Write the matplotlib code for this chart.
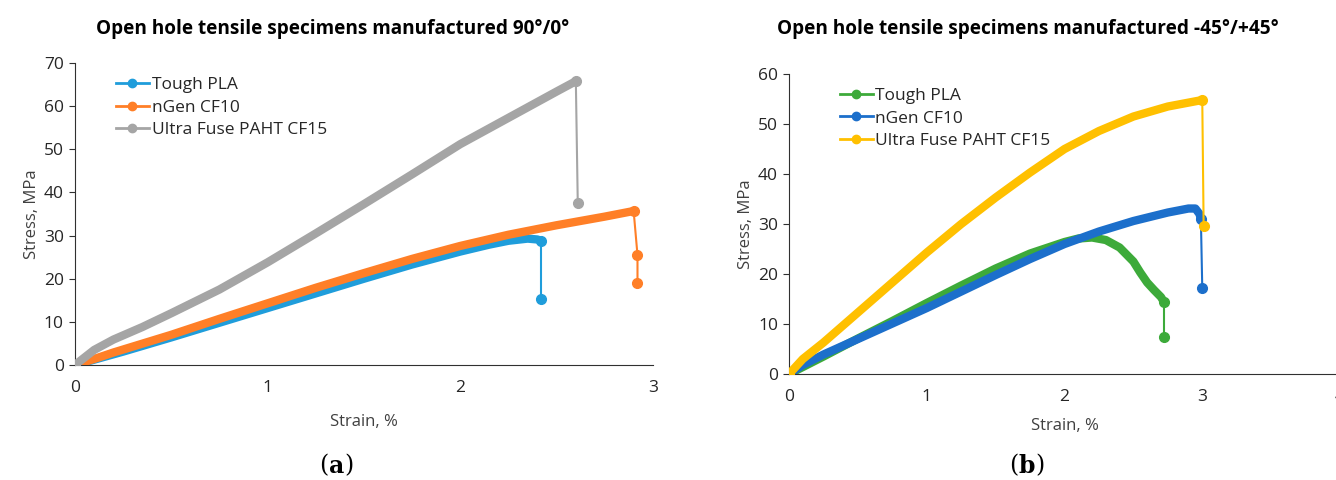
import matplotlib
matplotlib.use("Agg")
import matplotlib.pyplot as plt

plt.rcParams['font.family'] = ['Open Sans', 'DejaVu Sans']

# (a) 90/0
a_pla_x = [0, 0.25, 0.5, 0.75, 1.0, 1.25, 1.5, 1.75, 2.0, 2.15, 2.25, 2.35, 2.4, 2.42]
a_pla_y = [0, 3.1, 6.4, 9.8, 13.2, 16.6, 20.0, 23.3, 26.3, 27.9, 28.8, 29.3, 29.1, 28.8]
a_pla_drop_x = [2.42]
a_pla_drop_y = [15.3]
a_ngen_x = [0, 0.1, 0.2, 0.5, 0.75, 1.0, 1.25, 1.5, 1.75, 2.0, 2.25, 2.5, 2.75, 2.9]
a_ngen_y = [0, 1.4, 2.9, 7.0, 10.7, 14.3, 17.9, 21.3, 24.6, 27.6, 30.2, 32.4, 34.4, 35.7]
a_ngen_drop_x = [2.92, 2.92]
a_ngen_drop_y = [25.5, 19.0]
a_uf_x = [0, 0.1, 0.2, 0.35, 0.5, 0.75, 1.0, 1.25, 1.5, 1.75, 2.0, 2.25, 2.5, 2.6]
a_uf_y = [0, 3.5, 5.9, 8.8, 12.0, 17.5, 23.8, 30.5, 37.3, 44.2, 51.2, 57.3, 63.4, 65.8]
a_uf_drop_x = [2.61]
a_uf_drop_y = [37.5]

# (b) -45/+45
b_pla_x = [0, 0.25, 0.5, 0.75, 1.0, 1.25, 1.5, 1.75, 2.0, 2.1, 2.2, 2.3, 2.4,
           2.5, 2.55, 2.6, 2.65, 2.7, 2.72]
b_pla_y = [0, 3.5, 7.1, 10.6, 14.2, 17.7, 21.1, 24.1, 26.4, 27.1, 27.3, 26.8, 25.3,
           22.5, 20.3, 18.3, 16.8, 15.4, 14.5]
b_pla_drop_x = [2.72]
b_pla_drop_y = [7.5]
b_ngen_x = [0, 0.1, 0.25, 0.5, 0.75, 1.0, 1.25, 1.5, 1.75, 2.0, 2.25, 2.5, 2.75,
            2.9, 2.95, 2.98, 2.99]
b_ngen_y = [0, 1.8, 3.9, 7.0, 10.1, 13.2, 16.5, 19.8, 23.0, 26.0, 28.5, 30.6, 32.3,
            33.1, 33.1, 32.0, 31.0]
b_ngen_drop_x = [3.0]
b_ngen_drop_y = [17.2]
b_uf_x = [0, 0.1, 0.25, 0.5, 0.75, 1.0, 1.25, 1.5, 1.75, 2.0, 2.25, 2.5, 2.75, 3.0]
b_uf_y = [0, 3.0, 6.3, 12.3, 18.3, 24.3, 30.0, 35.3, 40.3, 45.0, 48.6, 51.5, 53.5, 54.8]
b_uf_drop_x = [3.01]
b_uf_drop_y = [29.6]

labels = ['Tough PLA', 'nGen CF10', 'Ultra Fuse PAHT CF15']

fig = plt.figure(figsize=(13.36, 4.8), dpi=100)
ax1 = fig.add_axes([0.0561, 0.2396, 0.4326, 0.629])
ax2 = fig.add_axes([0.5906, 0.2208, 0.4124, 0.625])


def curve(ax, xs, ys, drop_x, drop_y, color, label):
    ax.plot(xs, ys, color=color, lw=6, solid_capstyle='round',
            solid_joinstyle='round', zorder=3)
    ax.plot([xs[-1]] + drop_x, [ys[-1]] + drop_y, color=color, lw=1.5,
            marker='o', ms=7, zorder=3)
    ax.plot([xs[0]], [ys[0]], color=color, marker='o', ms=7, zorder=3)
    ax.plot([], [], color=color, lw=2, marker='o', ms=6, label=label)


curve(ax1, a_pla_x, a_pla_y, a_pla_drop_x, a_pla_drop_y, '#1F9DDB', labels[0])
curve(ax1, a_ngen_x, a_ngen_y, a_ngen_drop_x, a_ngen_drop_y, '#FF7F27', labels[1])
curve(ax1, a_uf_x, a_uf_y, a_uf_drop_x, a_uf_drop_y, '#A5A5A5', labels[2])

curve(ax2, b_pla_x, b_pla_y, b_pla_drop_x, b_pla_drop_y, '#3DAA3A', labels[0])
curve(ax2, b_ngen_x, b_ngen_y, b_ngen_drop_x, b_ngen_drop_y, '#1C6FCB', labels[1])
curve(ax2, b_uf_x, b_uf_y, b_uf_drop_x, b_uf_drop_y, '#FFC000', labels[2])

for ax, xmax, ymax, xt, yt, lx, xpad in [
        (ax1, 3, 70, [0, 1, 2, 3], range(0, 71, 10), 0.05, 13),
        (ax2, 4, 60, [0, 1, 2, 3, 4], range(0, 61, 10), 0.07, 9)]:
    ax.set_xlim(0, xmax)
    ax.set_ylim(0, ymax)
    ax.set_xticks(xt)
    ax.set_yticks(list(yt))
    for s in ['top', 'right']:
        ax.spines[s].set_visible(False)
    ax.spines['left'].set_color('#303030')
    ax.spines['bottom'].set_color('#303030')
    ax.tick_params(axis='both', labelsize=12.5, colors='#303030', labelcolor='#262626')
    ax.tick_params(axis='x', length=0, pad=11)
    ax.tick_params(axis='y', length=4, pad=4)
    ax.set_xlabel('Strain, %', fontsize=12, color='#404040', labelpad=xpad)
    ax.set_ylabel('Stress, MPa', fontsize=12, color='#404040', labelpad=3)
    leg = ax.legend(loc='upper left', bbox_to_anchor=(lx, 0.995), frameon=False,
                    fontsize=12.5, handlelength=1.9, handletextpad=0.15,
                    labelspacing=0.38, borderpad=0.2)
    for t in leg.get_texts():
        t.set_color('#262626')

fig.text(0.249, 0.94, 'Open hole tensile specimens manufactured 90°/0°',
         ha='center', va='center', fontsize=13.7, fontweight='bold')
fig.text(0.769, 0.94, 'Open hole tensile specimens manufactured -45°/+45°',
         ha='center', va='center', fontsize=13.7, fontweight='bold')
fig.text(0.246, 0.03, '(', ha='right', va='center', fontsize=17, family='DejaVu Serif')
fig.text(0.246, 0.03, 'a', ha='left', va='center', fontsize=17, family='DejaVu Serif',
         fontweight='bold')
fig.text(0.2575, 0.03, ')', ha='left', va='center', fontsize=17, family='DejaVu Serif')
fig.text(0.762, 0.03, '(', ha='right', va='center', fontsize=17, family='DejaVu Serif')
fig.text(0.762, 0.03, 'b', ha='left', va='center', fontsize=17, family='DejaVu Serif',
         fontweight='bold')
fig.text(0.775, 0.03, ')', ha='left', va='center', fontsize=17, family='DejaVu Serif')

fig.savefig('out.png', dpi=100)
